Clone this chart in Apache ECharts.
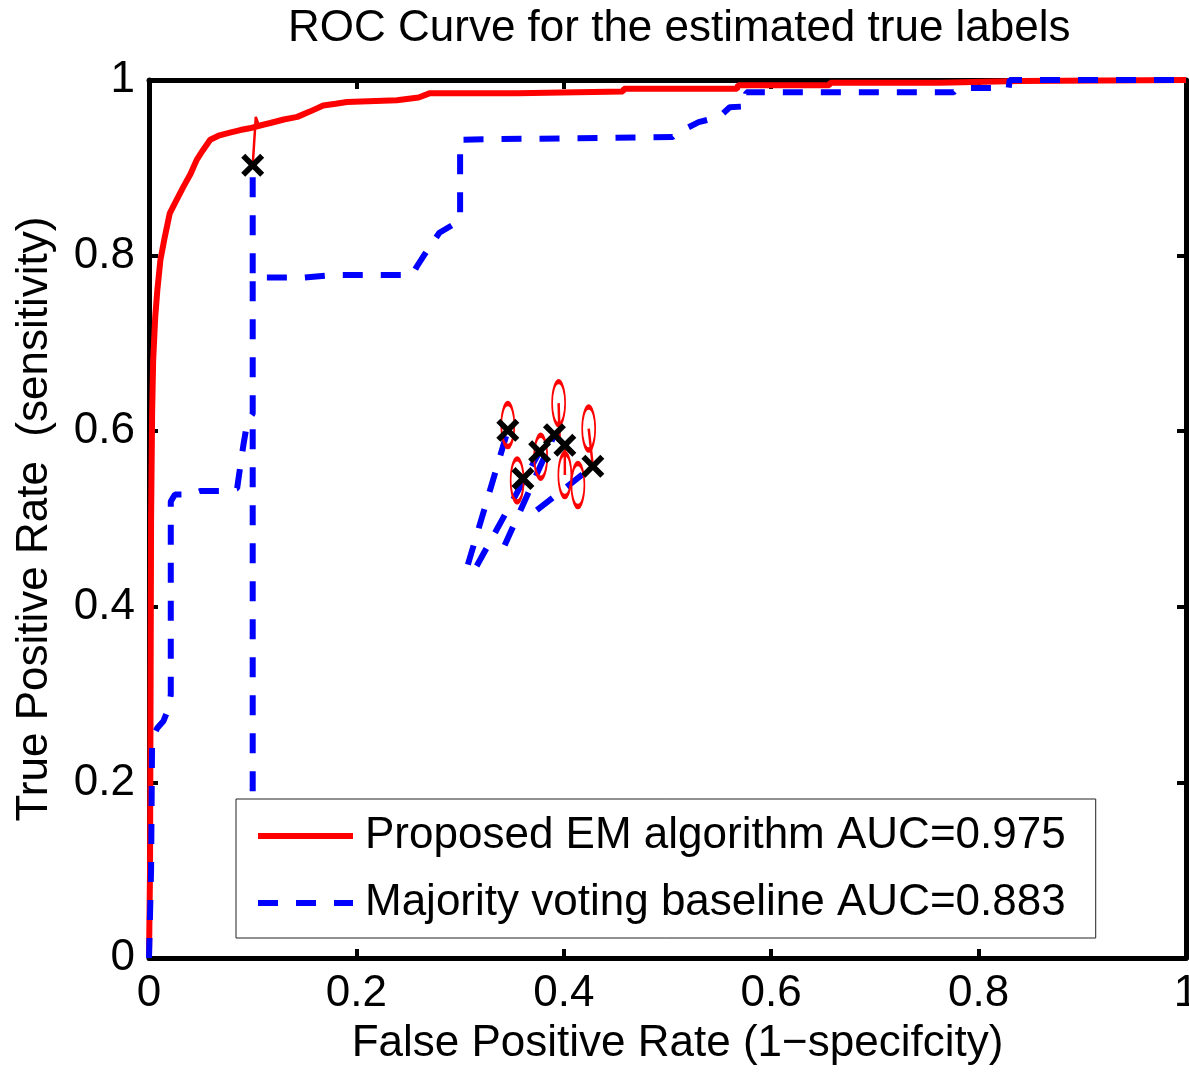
<!DOCTYPE html>
<html>
<head>
<meta charset="utf-8">
<script src="https://cdn.jsdelivr.net/npm/echarts@6/dist/echarts.min.js"></script>
<style>
html,body{margin:0;padding:0;background:#fff;}
#chart{width:1189px;height:1073px;}
</style>
</head>
<body>
<div id="chart"></div>
<script>
// ---- data ----
const titleText = 'ROC Curve for the estimated true labels';
const xAxisName = 'False Positive Rate (1\u2212specifcity)';
const yAxisName = 'True Positive Rate  (sensitivity)';
const legendNames = ['Proposed EM algorithm AUC=0.975', 'Majority voting baseline AUC=0.883'];

// Proposed EM algorithm ROC curve [FPR, TPR]
const emCurve = [
  [0,0],[0.001,0.1],[0.0015,0.3],[0.002,0.5],[0.003,0.62],[0.004,0.68],[0.006,0.73],
  [0.008,0.76],[0.011,0.795],[0.015,0.82],[0.020,0.848],[0.026,0.862],[0.033,0.878],
  [0.040,0.893],[0.046,0.909],[0.052,0.920],[0.059,0.932],[0.068,0.937],[0.078,0.940],
  [0.088,0.943],[0.097,0.945],[0.110,0.949],[0.117,0.951],[0.130,0.955],[0.143,0.958],
  [0.155,0.964],[0.168,0.971],[0.180,0.973],[0.191,0.975],[0.239,0.977],[0.260,0.980],
  [0.271,0.985],[0.355,0.985],[0.356,0.987],[0.457,0.987],[0.458,0.990],[0.567,0.990],
  [0.568,0.994],[0.656,0.994],[0.657,0.997],[0.762,0.997],[0.763,0.999],[0.839,0.999],
  [0.840,1.0],[1.0,1.0]
];

// Majority voting baseline ROC curve [FPR, TPR]
const mvCurve = [
  [0,0],[0.002,0.1],[0.003,0.25],[0.008,0.262],[0.014,0.27],[0.019,0.285],[0.021,0.30],
  [0.021,0.52],[0.025,0.528],[0.040,0.528],[0.050,0.532],[0.075,0.532],[0.085,0.535],
  [0.088,0.560],[0.091,0.584],[0.095,0.612],[0.100,0.620],[0.100,0.775],[0.150,0.775],
  [0.180,0.778],[0.254,0.778],[0.258,0.787],[0.265,0.800],[0.273,0.814],[0.280,0.826],
  [0.300,0.840],[0.300,0.932],[0.360,0.933],[0.505,0.935],[0.510,0.940],[0.530,0.952],
  [0.550,0.958],[0.560,0.969],[0.576,0.970],[0.576,0.986],[0.776,0.986],[0.780,0.991],
  [0.829,0.991],[0.830,1.0],[1.0,1.0]
];

// blue dashed link segments
const mvLinks = [
  [[0.100,0.190],[0.100,0.615]],
  [[0.100,0.780],[0.100,0.903]],
  [[0.3075,0.448],[0.346,0.601]],
  [[0.316,0.4465],[0.3767,0.5767]],
  [[0.343,0.470],[0.391,0.596]],
  [[0.374,0.510],[0.428,0.560]]
];

// thin red link segments
const emLinks = [
  [[0.100,0.903],[0.103,0.958],[0.106,0.948]],
  [[0.395,0.632],[0.396,0.592]],
  [[0.424,0.603],[0.428,0.560]],
  [[0.401,0.550],[0.401,0.584]]
];

// individual annotator operating points (black crosses)
const annotatorPoints = [
  [0.100,0.903],[0.346,0.601],[0.3606,0.546],[0.3767,0.5767],
  [0.391,0.596],[0.401,0.584],[0.428,0.560]
];

// red ellipse centres
const ellipseCenters = [
  [0.346,0.607],[0.355,0.544],[0.3777,0.571],[0.395,0.632],
  [0.401,0.550],[0.424,0.603],[0.4136,0.5387]
];

// ---- chart ----
const FONT = "'Liberation Sans', Arial, Helvetica, sans-serif";
const chart = echarts.init(document.getElementById('chart'), null, {renderer: 'canvas'});

const crossPath = 'path://M3.5,0 L10,6.5 L16.5,0 L20,3.5 L13.5,10 L20,16.5 L16.5,20 L10,13.5 L3.5,20 L0,16.5 L6.5,10 L0,3.5 Z';
const ellipsePath = 'path://M50,0 A50,50 0 1,1 50,100 A50,50 0 1,1 50,0 Z';
const LW = 6;
const DASH = [20, 18];

function axisBase(pos, isX, showLabels) {
  return {
    type: 'value', position: pos, min: 0, max: 1, interval: 0.2,
    axisLine: {show: true, onZero: false, lineStyle: {color: '#000', width: 5}},
    axisTick: {show: true, inside: true, length: 9, lineStyle: {color: '#000', width: 4}},
    axisLabel: {show: showLabels, color: '#000', fontSize: 44, fontFamily: FONT, margin: 14},
    splitLine: {show: false}
  };
}

const xMain = Object.assign(axisBase('bottom', true, true), {
  name: xAxisName, nameLocation: 'middle', nameGap: 64,
  nameTextStyle: {color: '#000', fontSize: 44, fontFamily: FONT, padding: [0, 0, 0, 20]}
});
const yMain = Object.assign(axisBase('left', false, true), {
  name: yAxisName, nameLocation: 'middle', nameGap: 92,
  nameTextStyle: {color: '#000', fontSize: 44, fontFamily: FONT}
});

const series = [];
series.push({
  name: legendNames[0], type: 'line', data: emCurve,
  showSymbol: false, symbol: 'none', lineStyle: {color: '#ff0000', width: LW}, itemStyle: {color: '#ff0000'}, z: 3
});
series.push({
  name: legendNames[1], type: 'line', data: mvCurve,
  showSymbol: false, symbol: 'none', lineStyle: {color: '#0000ff', width: LW, type: DASH}, itemStyle: {color: '#0000ff'}, z: 4
});
mvLinks.forEach(seg => series.push({
  type: 'line', data: seg, showSymbol: false, symbol: 'none',
  lineStyle: {color: '#0000ff', width: LW, type: DASH}, z: 4
}));
emLinks.forEach(seg => series.push({
  type: 'line', data: seg, showSymbol: false, symbol: 'none',
  lineStyle: {color: '#ff0000', width: 2.5}, z: 5
}));
series.push({
  type: 'scatter', data: ellipseCenters, symbol: ellipsePath, symbolSize: [13, 43],
  itemStyle: {color: 'rgba(0,0,0,0)', borderColor: '#ff0000', borderWidth: 3, opacity: 1}, z: 6
});
series.push({
  type: 'scatter', data: annotatorPoints, symbol: crossPath, symbolSize: 23,
  itemStyle: {color: '#000', opacity: 1}, z: 7
});

chart.setOption({
  animation: false,
  backgroundColor: '#fff',
  title: {
    text: titleText, left: 283, top: 2,
    textStyle: {color: '#000', fontSize: 44, fontWeight: 'normal', fontFamily: FONT}
  },
  grid: {left: 149, right: 3, top: 80, bottom: 115, containLabel: false, outerBoundsMode: 'none'},
  xAxis: [xMain, axisBase('top', true, false)],
  yAxis: [yMain, axisBase('right', false, false)],
  legend: {
    data: legendNames, orient: 'vertical', left: 236, top: 799,
    backgroundColor: '#fff', borderColor: '#222', borderWidth: 1,
    padding: [12, 30, 10, 19], itemWidth: 95, itemHeight: 14, itemGap: 17,
    itemStyle: {opacity: 0},
    lineStyle: {width: LW},
    textStyle: {color: '#000', fontSize: 44, fontFamily: FONT, lineHeight: 50, padding: [0, 0, 0, 7]},
    z: 10
  },
  series: series
});
</script>
</body>
</html>
